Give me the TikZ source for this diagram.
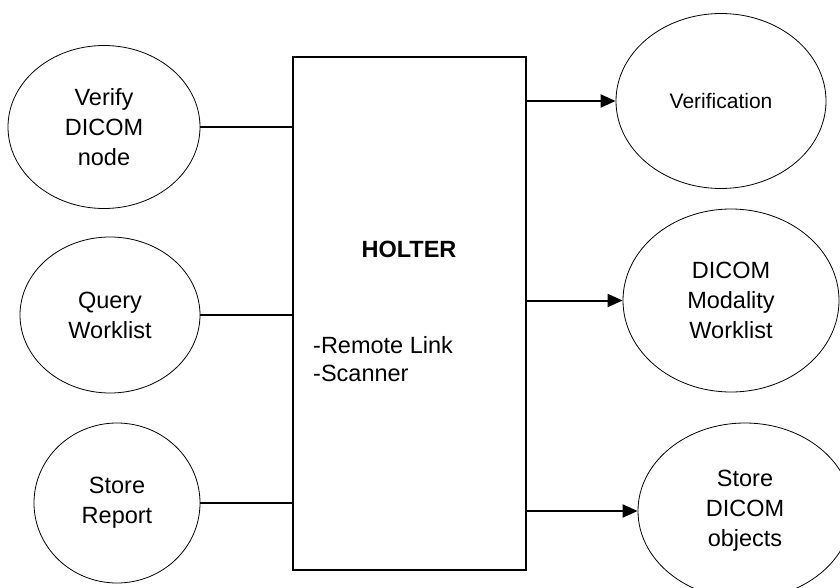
\documentclass[tikz,border=0pt]{standalone}
\usepackage{fontspec}
\setmainfont{Liberation Sans}
\usetikzlibrary{shapes.geometric,arrows.meta}

\tikzset{
    usecase/.style={ellipse, draw, line width=0.8pt, inner sep=0pt, align=center,
        font=\fontsize{23.5}{30}\selectfont},
    link/.style={line width=2pt},
    flow/.style={line width=2pt, -{Triangle[length=15pt,width=13pt]}}
}

\begin{document}
\begin{tikzpicture}[x=1pt,y=-1pt]
        \useasboundingbox (0,0) rectangle (840,588);
        % system block
        \node[draw, line width=2.5pt, minimum width=233pt, minimum height=513pt] (holter) at (409.5,313.5) {};
        \node[font=\fontsize{23.5}{30}\selectfont\bfseries] (title) at (409,249) {HOLTER};
        \node[anchor=west, align=left, inner sep=0pt, font=\fontsize{23.5}{28}\selectfont] (parts) at (313,359) {-Remote Link\\-Scanner};
        % actors on the left
        \node[usecase, minimum width=192pt, minimum height=163pt] (verify) at (104,127) {Verify\\DICOM\\node};
        \node[usecase, minimum width=180pt, minimum height=156pt] (query) at (110,315) {Query\\Worklist};
        \node[usecase, minimum width=166pt, minimum height=160pt] (report) at (117,503) {Store\\Report};
        % services on the right
        \node[usecase, minimum width=210pt, minimum height=175pt, font=\fontsize{21}{26}\selectfont] (verification) at (721,101) {Verification};
        \node[usecase, minimum width=216pt, minimum height=183pt] (modality) at (731,300.5) {DICOM\\Modality\\Worklist};
        \node[usecase, minimum width=214pt, minimum height=176pt] (objects) at (745,511) {Store\\DICOM\\objects};
        % connectors
        \draw[link] (verify.east) -- (verify.east -| holter.west);
        \draw[link] (query.east) -- (query.east -| holter.west);
        \draw[link] (report.east) -- (report.east -| holter.west);
        \draw[flow] (holter.east |- verification.west) -- (verification.west);
        \draw[flow] (holter.east |- modality.west) -- (modality.west);
        \draw[flow] (holter.east |- objects.west) -- (objects.west);
    \end{tikzpicture}
\end{document}
